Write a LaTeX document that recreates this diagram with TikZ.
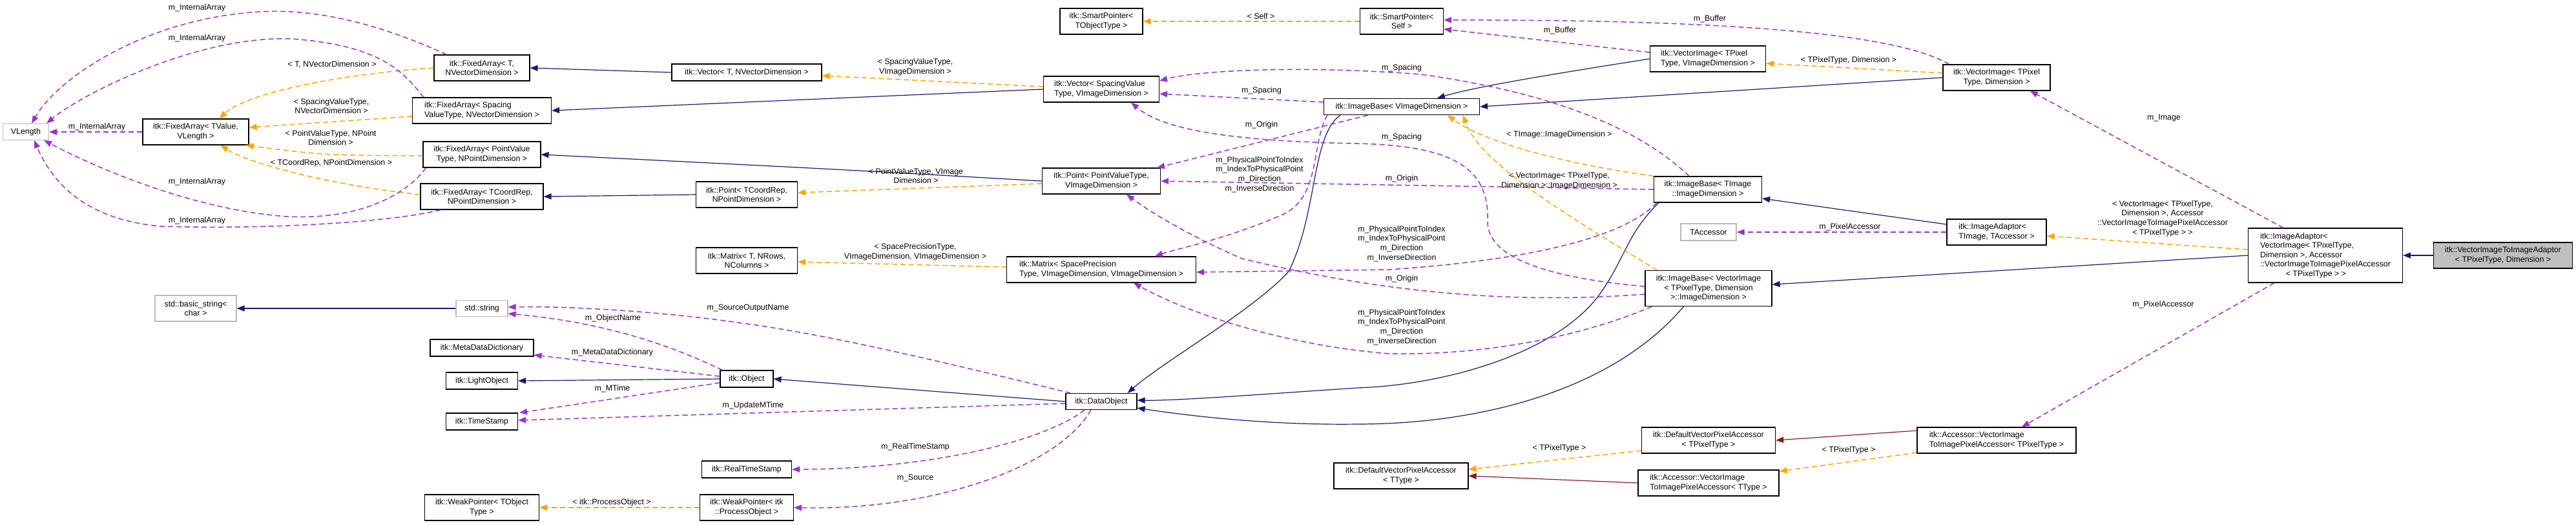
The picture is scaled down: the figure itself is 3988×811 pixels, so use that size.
\documentclass[tikz,border=0pt]{standalone}
\usepackage{fontspec}
\setmainfont{Liberation Sans}
\usetikzlibrary{arrows.meta,calc}
\definecolor{navy}{HTML}{191970}
\definecolor{purp}{HTML}{9A32CD}
\definecolor{orng}{HTML}{FFA500}
\definecolor{dred}{HTML}{8B1A1A}
\newcommand\fsz{\fontsize{6.2pt}{7.3pt}\selectfont}
\newcommand\bx[7]{\node[box,#6,minimum width=#4*0.5pt,minimum height=#5*0.5pt] (#1) at (#2,#3) {#7};}
\begin{document}
\begin{tikzpicture}[x=0.5pt,y=-0.5pt,font=\fsz,
  box/.style={draw=black,line width=0.6pt,fill=white,inner sep=1.5pt,align=center},
  gbox/.style={draw=gray!55},
  lab/.style={align=center,inner sep=0.5pt},
  tip/.style={-{Triangle[length=6pt,width=4.6pt]}},
  inh/.style={tip,draw=navy,line width=0.6pt},
  priv/.style={tip,draw=dred,line width=0.6pt},
  tmpl/.style={tip,draw=orng,line width=0.75pt,dash pattern=on 4pt off 2.5pt},
  use/.style={tip,draw=purp,line width=0.75pt,dash pattern=on 4pt off 2.5pt}]
\useasboundingbox (0,0) rectangle (3988,811);
% nodes
\bx{vl}{40}{204}{71}{25}{gbox}{VLength}
\bx{fatv}{303}{204}{164}{40}{}{itk::FixedArray< TValue,\\VLength >}
\bx{fat}{746}{105}{148}{40}{}{itk::FixedArray< T,\\NVectorDimension >}
\bx{fas}{746}{171}{215}{40}{align=left}{itk::FixedArray< Spacing\\ValueType, NVectorDimension >}
\bx{fap}{746}{239}{182}{40}{}{itk::FixedArray< PointValue\\Type, NPointDimension >}
\bx{fac}{746}{304}{190}{40}{}{itk::FixedArray< TCoordRep,\\NPointDimension >}
\bx{vect}{1156}{112}{232}{26}{}{itk::Vector< T, NVectorDimension >}
\bx{ptc}{1156}{301}{157}{40}{}{itk::Point< TCoordRep,\\NPointDimension >}
\bx{mat}{1156}{403}{157}{40}{}{itk::Matrix< T, NRows,\\NColumns >}
\bx{spt}{1705}{33}{128}{40}{}{itk::SmartPointer<\\TObjectType >}
\bx{vecs}{1705}{138}{179}{40}{align=left}{itk::Vector< SpacingValue\\Type, VImageDimension >}
\bx{pts}{1705}{280}{183}{40}{}{itk::Point< PointValueType,\\VImageDimension >}
\bx{mats}{1705}{417}{293}{40}{align=left}{itk::Matrix< SpacePrecision\\Type, VImageDimension, VImageDimension >}
\bx{ibv}{2170}{165}{241}{25}{}{itk::ImageBase< VImageDimension >}
\bx{sps}{2170}{33}{129}{40}{}{itk::SmartPointer<\\Self >}
\bx{viv}{2644}{91}{179}{40}{align=left}{itk::VectorImage< TPixel\\Type, VImageDimension >}
\bx{ibt}{2644}{293}{167}{40}{}{itk::ImageBase< TImage\\::ImageDimension >}
\bx{tacc}{2645}{359}{86}{26}{gbox}{TAccessor}
\bx{ibvi}{2645}{446}{196}{55}{}{itk::ImageBase< VectorImage\\< TPixelType, Dimension\\>::ImageDimension >}
\bx{dvpt}{2645}{681}{207}{40}{}{itk::DefaultVectorPixelAccessor\\< TPixelType >}
\bx{acct}{2645}{747}{218}{40}{align=left}{itk::Accessor::VectorImage\\ToImagePixelAccessor< TType >}
\bx{dvt}{2169}{736}{208}{40}{}{itk::DefaultVectorPixelAccessor\\< TType >}
\bx{vid}{3091}{120}{166}{40}{}{itk::VectorImage< TPixel\\Type, Dimension >}
\bx{iat}{3091}{359}{154}{40}{align=left}{itk::ImageAdaptor<\\ TImage, TAccessor >}
\bx{accp}{3091}{681}{246}{40}{align=left}{itk::Accessor::VectorImage\\ToImagePixelAccessor< TPixelType >}
\bx{iav}{3600}{395}{239}{84}{align=left}{itk::ImageAdaptor<\\ VectorImage< TPixelType,\\ Dimension >, Accessor\\::VectorImageToImagePixelAccessor\\\hspace*{3.2em}< TPixelType > >}
\bx{vitia}{3875}{395}{215}{40}{fill=gray!50}{itk::VectorImageToImageAdaptor\\< TPixelType, Dimension >}
\bx{dobj}{1705}{621}{110}{25}{}{itk::DataObject}
\bx{bstr}{303}{477}{126}{40}{gbox}{std::basic\_string<\\char >}
\bx{str}{746}{477}{80}{25}{gbox}{std::string}
\bx{mdd}{746}{538}{160}{26}{}{itk::MetaDataDictionary}
\bx{lobj}{746}{589}{111}{26}{}{itk::LightObject}
\bx{ts}{746}{652}{111}{26}{}{itk::TimeStamp}
\bx{obj}{1156}{586}{82}{26}{}{itk::Object}
\bx{rts}{1156}{726}{139}{26}{}{itk::RealTimeStamp}
\bx{wpt}{746}{785}{177}{40}{}{itk::WeakPointer< TObject\\Type >}
\bx{wpp}{1156}{785}{145}{40}{}{itk::WeakPointer< itk\\::ProcessObject >}
% inheritance
\draw[inh] (vect.west) -- (fat.east);
\draw[inh] (vecs.west) -- (fas.east);
\draw[inh] (pts.west) .. controls (1300,262) .. (fap.east);
\draw[inh] (ptc.west) -- (fac.east);
\draw[inh] (viv.west) .. controls (2400,115) and (2280,135) .. ($(ibv.north west)+(176,0)$);
\draw[inh] (vid.west) -- (ibv.east);
\draw[inh] ($(ibv.south west)+(26,0)$) .. controls (2030,210) and (2040,330) .. (1995,420) .. controls (1940,480) and (1800,560) .. ($(dobj.north east)+(-15,0)$);
\draw[inh] ($(ibt.south west)+(8,0)$) .. controls (2520,360) and (2515,400) .. (2480,450) .. controls (2420,540) and (2250,595) .. (2100,600) .. controls (1950,610) and (1820,620) .. ($(dobj.east)+(0,-2)$);
\draw[inh] ($(ibvi.south west)+(60,0)$) .. controls (2500,600) and (2300,656) .. (2100,656) .. controls (1950,658) and (1820,640) .. ($(dobj.east)+(0,10)$);
\draw[inh] (dobj.west) -- (obj.east);
\draw[inh] (obj.west) -- (lobj.east);
\draw[inh] (str.west) -- (bstr.east);
\draw[inh] ($(iat.west)+(0,-12)$) -- ($(ibt.east)+(0,14)$);
\draw[inh] (iav.west) -- ($(ibvi.east)+(0,-6)$);
\draw[inh] (vitia.west) -- (iav.east);
\draw[priv] (acct.west) -- (dvt.east);
\draw[priv] ($(accp.west)+(0,-15)$) -- (dvpt.east);
% templates
\draw[tmpl] (fat.west) .. controls (520,115) and (380,145) .. ($(fatv.north east)+(-46,0)$);
\draw[tmpl] ($(fas.west)+(0,9)$) -- ($(fatv.east)+(0,-7)$);
\draw[tmpl] ($(fap.west)+(0,2)$) .. controls (500,240) .. ($(fatv.south east)+(-5,0)$);
\draw[tmpl] ($(fac.west)+(0,-3)$) .. controls (500,285) and (380,250) .. ($(fatv.south east)+(-44,0)$);
\draw[tmpl] ($(vecs.west)+(0,-4)$) -- ($(vect.east)+(0,5)$);
\draw[tmpl] ($(pts.west)+(0,4)$) -- ($(ptc.east)+(0,-3)$);
\draw[tmpl] ($(mats.west)+(0,-4)$) -- ($(mat.east)+(0,2)$);
\draw[tmpl] (sps.west) -- (spt.east);
\draw[tmpl] ($(vid.west)+(0,-7)$) -- ($(viv.east)+(0,7)$);
\draw[tmpl] (ibt.north west) .. controls (2400,250) and (2290,215) .. ($(ibv.south west)+(192,0)$);
\draw[tmpl] ($(ibvi.north west)+(19,0)$) .. controls (2420,330) and (2290,250) .. ($(ibv.south west)+(216,0)$);
\draw[tmpl] ($(iav.west)+(0,-9)$) -- ($(iat.east)+(0,6)$);
\draw[tmpl] ($(dvpt.west)+(0,16)$) -- ($(dvt.east)+(0,-10)$);
\draw[tmpl] ($(accp.west)+(0,19)$) -- ($(acct.east)+(0,-18)$);
\draw[tmpl] (wpp.west) -- (wpt.east);
% members
\draw[use] (fatv.west) -- (vl.east);
\draw[use] ($(fat.north west)+(20,0)$) .. controls (550,20) and (450,12) .. (380,20) .. controls (220,35) and (90,120) .. ($(vl.north)+(9,0)$);
\draw[use] ($(fas.north west)+(18,0)$) .. controls (630,120) and (600,70) .. (450,60) .. controls (300,55) and (120,150) .. ($(vl.north east)+(-4,0)$);
\draw[use] ($(fap.south west)+(5,0)$) .. controls (630,300) and (560,340) .. (446,335) .. controls (300,325) and (150,260) .. ($(vl.south east)+(-8,0)$);
\draw[use] ($(fac.south west)+(32,0)$) .. controls (600,345) and (400,355) .. (250,350) .. controls (130,340) and (80,280) .. ($(vl.south)+(13,0)$);
\draw[use] ($(viv.west)+(0,-10)$) -- ($(sps.east)+(0,12)$);
\draw[use] ($(vid.north west)+(10,0)$) .. controls (2950,60) and (2750,30) .. ($(sps.east)+(0,-2)$);
\draw[use] ($(ibv.west)+(0,-7)$) -- ($(vecs.east)+(0,7)$);
\draw[use] ($(ibt.north)+(-29,0)$) .. controls (2560,220) and (2450,150) .. (2200,115) .. controls (2000,100) and (1850,110) .. ($(vecs.east)+(0,-13)$);
\draw[use] ($(ibvi.west)+(0,-3)$) .. controls (2400,430) and (2300,400) .. (2303,340) .. controls (2305,260) and (2250,225) .. (2100,222) .. controls (1900,218) and (1800,200) .. ($(vecs.south east)+(-44,0)$);
\draw[use] ($(ibv.south west)+(69,0)$) -- ($(pts.north east)+(-6,0)$);
\draw[use] (ibt.west) -- (pts.east);
\draw[use] ($(ibvi.west)+(0,9)$) .. controls (2350,470) and (2150,455) .. (1923,400) .. controls (1830,360) and (1770,320) .. ($(pts.south)+(39,0)$);
\draw[use] ($(ibv.south west)+(6,0)$) .. controls (2030,220) and (2045,300) .. (1990,330) .. controls (1900,370) and (1820,385) .. ($(mats.north)+(83,0)$);
\draw[use] ($(ibt.south west)+(5,0)$) .. controls (2520,360) and (2400,400) .. (2150,417) -- ($(mats.east)+(0,4)$);
\draw[use] ($(ibvi.south west)+(11,0)$) .. controls (2450,520) and (2300,550) .. (2150,547) .. controls (2000,535) and (1850,490) .. ($(mats.south)+(50,0)$);
\draw[use] (iat.west) -- (tacc.east);
\draw[use] ($(iav.north west)+(55,0)$) -- ($(vid.south)+(52,0)$);
\draw[use] ($(iav.south west)+(41,0)$) -- ($(accp.north)+(39,0)$);
\draw[use] ($(obj.north west)+(4,0)$) .. controls (1050,540) and (950,500) .. ($(str.east)+(0,8)$);
\draw[use] ($(dobj.north west)+(8,0)$) .. controls (1500,570) and (1300,520) .. (1150,500) .. controls (1050,485) and (900,473) .. ($(str.east)+(0,-2)$);
\draw[use] ($(obj.west)+(0,-4)$) -- ($(mdd.east)+(0,11)$);
\draw[use] ($(obj.west)+(0,6)$) -- ($(ts.north east)+(2,0)$);
\draw[use] ($(dobj.west)+(0,3)$) -- ($(ts.east)+(0,-2)$);
\draw[use] ($(dobj.south)+(-26,0)$) .. controls (1620,680) and (1450,725) .. (rts.east);
\draw[use] ($(dobj.south)+(-16,0)$) .. controls (1640,720) and (1450,790) .. (wpp.east);
% labels
\node[lab] (l1) at (150,196) {m\_InternalArray};
\node[lab] (l2) at (305,12) {m\_InternalArray};
\node[lab] (l3) at (305,59) {m\_InternalArray};
\node[lab] (l4) at (305,281) {m\_InternalArray};
\node[lab] (l5) at (305,341) {m\_InternalArray};
\node[lab] (l6) at (514,100) {< T, NVectorDimension >};
\node[lab] (l7) at (513,164) {< SpacingValueType,\\NVectorDimension >};
\node[lab] (l8) at (512,213) {< PointValueType, NPoint\\Dimension >};
\node[lab] (l9) at (513,252) {< TCoordRep, NPointDimension >};
\node[lab] (l10) at (1417,104) {< SpacingValueType,\\VImageDimension >};
\node[lab] (l11) at (1418,272) {< PointValueType, VImage\\Dimension >};
\node[lab] (l12) at (1417,390) {< SpacePrecisionType,\\VImageDimension, VImageDimension >};
\node[lab] (l13) at (1952,25) {< Self >};
\node[lab] (l14) at (2415,47) {m\_Buffer};
\node[lab] (l15) at (2647,29) {m\_Buffer};
\node[lab] (l16) at (2862,93) {< TPixelType, Dimension >};
\node[lab] (l17) at (1953,140) {m\_Spacing};
\node[lab] (l18) at (2170,105) {m\_Spacing};
\node[lab] (l19) at (2170,212) {m\_Spacing};
\node[lab] (l20) at (1953,193) {m\_Origin};
\node[lab] (l21) at (2170,276) {m\_Origin};
\node[lab] (l22) at (2170,431) {m\_Origin};
\node[lab] (l23) at (2414,208) {< TImage::ImageDimension >};
\node[lab] (l24) at (2414,280) {< VectorImage< TPixelType,\\Dimension >::ImageDimension >};
\node[lab] (l25) at (1950,270) {m\_PhysicalPointToIndex\\m\_IndexToPhysicalPoint\\m\_Direction\\m\_InverseDirection};
\node[lab] (l26) at (2170,377) {m\_PhysicalPointToIndex\\m\_IndexToPhysicalPoint\\m\_Direction\\m\_InverseDirection};
\node[lab] (l27) at (2170,506) {m\_PhysicalPointToIndex\\m\_IndexToPhysicalPoint\\m\_Direction\\m\_InverseDirection};
\node[lab] (l28) at (2864,351) {m\_PixelAccessor};
\node[lab] (l29) at (3349,471) {m\_PixelAccessor};
\node[lab] (l30) at (3350,183) {m\_Image};
\node[lab] (l31) at (3348,338) {< VectorImage< TPixelType,\\Dimension >, Accessor\\::VectorImageToImagePixelAccessor\\< TPixelType > >};
\node[lab] (l32) at (2414,693) {< TPixelType >};
\node[lab] (l33) at (2862,696) {< TPixelType >};
\node[lab] (l34) at (947,777) {< itk::ProcessObject >};
\node[lab] (l35) at (949,492) {m\_ObjectName};
\node[lab] (l36) at (1158,476) {m\_SourceOutputName};
\node[lab] (l37) at (948,545) {m\_MetaDataDictionary};
\node[lab] (l38) at (948,601) {m\_MTime};
\node[lab] (l39) at (1166,627) {m\_UpdateMTime};
\node[lab] (l40) at (1417,691) {m\_RealTimeStamp};
\node[lab] (l41) at (1417,739) {m\_Source};
\end{tikzpicture}
\end{document}
